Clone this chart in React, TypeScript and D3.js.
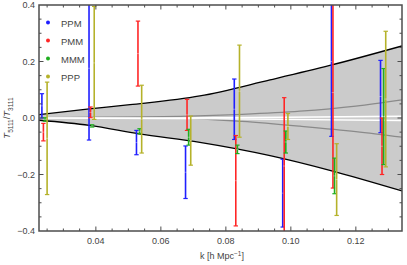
import React, { useEffect, useRef } from "react";
import * as d3 from "d3";

// k bin centres [h/Mpc]
const kBins = [0.0241, 0.0386, 0.0532, 0.0683, 0.0833, 0.0982, 0.1132, 0.1283];

const seriesNames = ["PPM", "PMM", "MMM", "PPP"];
const seriesColors = ["#1f1fff", "#ff2626", "#1fae1f", "#b5b22a"];

// [centre, error]
const ppm = [[0.043, 0.043], [0.176, 0.254], [-0.087, 0.043], [-0.192, 0.093], [0.031, 0.107], [-0.266, 0.12], [0.2, 0.265], [0.076, 0.128]];
const pmm = [[-0.05, 0.031], [0.02, 0.019], [0.228, 0.115], [0.011, 0.055], [-0.222, 0.16], [-0.17, 0.242], [0.09, 0.338], [-0.1, 0.1]];
const mmm = [[-0.005, 0.006], [-0.028, 0.004], [-0.047, 0.009], [-0.068, 0.028], [-0.111, 0.015], [-0.085, 0.039], [-0.205, 0.063], [0.005, 0.17]];
const ppp = [[-0.072, 0.199], [0.195, 0.2], [-0.004, 0.12], [-0.08, 0.087], [0.095, 0.163], [-0.03, 0.046], [-0.218, 0.127], [0.067, 0.24]];

// bands [k, value]
const outerUpper = [[0.0225, 0.012], [0.038, 0.032], [0.0505, 0.047], [0.072, 0.078], [0.0936, 0.135], [0.112, 0.186], [0.1342, 0.255]];
const outerLower = [[0.0225, -0.008], [0.038, -0.026], [0.0533, -0.056], [0.072, -0.086], [0.0936, -0.133], [0.112, -0.185], [0.1342, -0.258]];
const innerUpper = [[0.0225, 0.001], [0.05, 0.003], [0.066, 0.006], [0.085, 0.013], [0.1028, 0.024], [0.12, 0.042], [0.1342, 0.064]];
const innerLower = [[0.0225, 0.001], [0.05, 0.002], [0.066, 0.0], [0.085, -0.012], [0.1028, -0.029], [0.12, -0.048], [0.1342, -0.068]];
const whiteUpper = [[0.0225, 0.0], [0.08, 0.001], [0.1342, 0.006]];
const whiteLower = [[0.0225, 0.0], [0.08, -0.003], [0.1342, -0.009]];

const xTicks = [0.04, 0.06, 0.08, 0.1, 0.12];
const xTickLabels = ["0.04", "0.06", "0.08", "0.10", "0.12"];
const yTicks = [0.4, 0.2, 0, -0.2, -0.4];
const yTickLabels = ["0.4", "0.2", "0.0", "\u22120.2", "\u22120.4"];

const W = 407;
const H = 265;
const left = 39, right = 402, top = 5, bottom = 231;

export default function App() {
  const ref = useRef<SVGSVGElement>(null);

  useEffect(() => {
    const svg = d3.select(ref.current);
    svg.selectAll("*").remove();
    const x = d3.scaleLinear().domain([0.0225, 0.1342]).range([left, right]);
    const y = d3.scaleLinear().domain([-0.4, 0.4]).range([bottom, top]);
    const font = "'Liberation Sans', Arial, sans-serif";

    svg.append("defs").append("clipPath").attr("id", "plot")
      .append("rect").attr("x", left).attr("y", top).attr("width", right - left).attr("height", bottom - top);
    const g = svg.append("g").attr("clip-path", "url(#plot)");

    const line = d3.line<number[]>().x((d) => x(d[0])).y((d) => y(d[1])).curve(d3.curveMonotoneX);
    const area = d3.area<number[]>()
      .x((d) => x(d[0]))
      .y0((d, i) => y(outerLower[i][1]))
      .y1((d) => y(d[1]))
      .curve(d3.curveMonotoneX);
    // outerLower sampled at same k where possible; build area from interpolated lines
    const up = d3.line<number[]>().x((d) => x(d[0])).y((d) => y(d[1])).curve(d3.curveMonotoneX);
    const pathUp = up(outerUpper) as string;
    const pathLo = up(outerLower.slice().reverse()) as string;
    void area;
    g.append("path").attr("d", pathUp + "L" + pathLo.slice(1) + "Z").attr("fill", "#cbcbcb");

    g.append("path").attr("d", line(innerUpper)).attr("fill", "none").attr("stroke", "#8a8a8a").attr("stroke-width", 1.3);
    g.append("path").attr("d", line(innerLower)).attr("fill", "none").attr("stroke", "#8a8a8a").attr("stroke-width", 1.3);
    g.append("path").attr("d", line(whiteUpper)).attr("fill", "none").attr("stroke", "#ffffff").attr("stroke-width", 1.4);
    g.append("path").attr("d", line(whiteLower)).attr("fill", "none").attr("stroke", "#ffffff").attr("stroke-width", 1.4);
    g.append("path").attr("d", line(outerUpper)).attr("fill", "none").attr("stroke", "#000").attr("stroke-width", 1.3);
    g.append("path").attr("d", line(outerLower)).attr("fill", "none").attr("stroke", "#000").attr("stroke-width", 1.3);

    const allSeries = [ppm, pmm, mmm, ppp];
    const dodge = [-2.3, -0.8, 0.8, 2.9];
    allSeries.forEach((s, si) => {
      const col = seriesColors[si];
      const sg = g.append("g");
      s.forEach((d, i) => {
        const cx = x(kBins[i]) + dodge[si];
        const y1 = y(d[0] + d[1]);
        const y0 = y(d[0] - d[1]);
        sg.append("line").attr("x1", cx).attr("x2", cx).attr("y1", y1).attr("y2", y0)
          .attr("stroke", col).attr("stroke-width", 1.6);
        [y1, y0].forEach((yy) => {
          sg.append("line").attr("x1", cx - 2.2).attr("x2", cx + 2.2).attr("y1", yy).attr("y2", yy)
            .attr("stroke", col).attr("stroke-width", 1.2);
        });
        sg.append("line").attr("x1", cx - 1.3).attr("x2", cx + 1.3).attr("y1", y(d[0])).attr("y2", y(d[0]))
          .attr("stroke", "#ffffff").attr("stroke-opacity", 0.35).attr("stroke-width", 1);
      });
    });

    // frame and ticks
    const axisCol = "#4d4d4d";
    const fr = svg.append("g");
    fr.append("rect").attr("x", left).attr("y", top).attr("width", right - left).attr("height", bottom - top)
      .attr("fill", "none").attr("stroke", axisCol).attr("stroke-width", 1.5);
    const xMinor = d3.range(0.025, 0.1342, 0.005);
    xMinor.forEach((t) => {
      const major = xTicks.some((m) => Math.abs(m - t) < 1e-6);
      const len = major ? 4.5 : 2.5;
      fr.append("line").attr("x1", x(t)).attr("x2", x(t)).attr("y1", bottom).attr("y2", bottom - len).attr("stroke", axisCol).attr("stroke-width", 1);
      fr.append("line").attr("x1", x(t)).attr("x2", x(t)).attr("y1", top).attr("y2", top + len).attr("stroke", axisCol).attr("stroke-width", 1);
    });
    const yMinor = d3.range(-0.35, 0.4, 0.05);
    yMinor.forEach((t) => {
      const major = yTicks.some((m) => Math.abs(m - t) < 1e-6);
      const len = major ? 4.5 : 2.5;
      fr.append("line").attr("x1", left).attr("x2", left + len).attr("y1", y(t)).attr("y2", y(t)).attr("stroke", axisCol).attr("stroke-width", 1);
      fr.append("line").attr("x1", right).attr("x2", right - len).attr("y1", y(t)).attr("y2", y(t)).attr("stroke", axisCol).attr("stroke-width", 1);
    });
    xTicks.forEach((t, i) => {
      fr.append("text").attr("x", x(t)).attr("y", bottom + 13).attr("text-anchor", "middle")
        .attr("font-family", font).attr("font-size", 9).attr("fill", "#444").text(xTickLabels[i]);
    });
    yTicks.forEach((t, i) => {
      fr.append("text").attr("x", left - 4).attr("y", y(t) + 3.2).attr("text-anchor", "end")
        .attr("font-family", font).attr("font-size", 9).attr("fill", "#444").text(yTickLabels[i]);
    });

    // axis labels
    const xl = svg.append("text").attr("x", 222).attr("y", 259).attr("text-anchor", "middle")
      .attr("font-family", font).attr("font-size", 9).attr("fill", "#444");
    xl.append("tspan").text("k [h Mpc");
    xl.append("tspan").attr("dy", -3.5).attr("font-size", 6.5).text("\u22121");
    xl.append("tspan").attr("dy", 3.5).text("]");

    const yl = svg.append("text").attr("transform", `translate(10,${(top + bottom) / 2}) rotate(-90)`)
      .attr("text-anchor", "middle").attr("font-family", font).attr("font-size", 9.5).attr("fill", "#444");
    yl.append("tspan").attr("font-style", "italic").text("T");
    yl.append("tspan").attr("dy", 2.5).attr("font-size", 6.5).text("5111");
    yl.append("tspan").attr("dy", -2.5).text("/");
    yl.append("tspan").attr("font-style", "italic").text("T");
    yl.append("tspan").attr("dy", 2.5).attr("font-size", 6.5).text("3111");

    // legend
    seriesNames.forEach((name, i) => {
      const ly = 23 + i * 18;
      svg.append("circle").attr("cx", 48).attr("cy", ly - 0.5).attr("r", 2).attr("fill", seriesColors[i]);
      svg.append("text").attr("x", 61).attr("y", ly + 3.5).attr("font-family", font).attr("font-size", 9.5)
        .attr("fill", "#444").text(name);
    });
  }, []);

  return (
    <svg ref={ref} width={W} height={H} style={{ position: "absolute", left: 0, top: 0, background: "#fff" }} />
  );
}
